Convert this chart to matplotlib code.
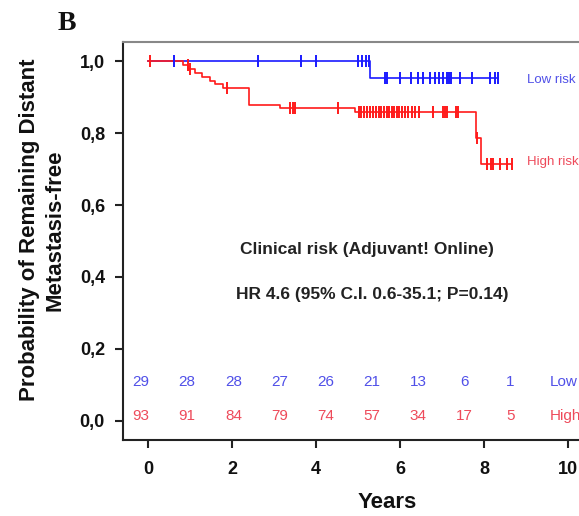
import numpy as np
import matplotlib
matplotlib.use("Agg")
import matplotlib.pyplot as plt

# ---- data ----
low_event_times = [5.29]
low_event_surv = [0.952]
low_end = 8.33
low_censor = [0.62, 2.62, 3.64, 4.0, 5.0, 5.1, 5.19, 5.26, 5.64, 5.69, 6.0, 6.26,
              6.43, 6.55, 6.71, 6.83, 6.93, 7.02, 7.12, 7.16, 7.21, 7.43, 7.71,
              8.14, 8.26, 8.33]

high_event_times = [0.83, 0.96, 1.12, 1.28, 1.48, 1.60, 1.79, 2.39, 3.15, 4.93, 7.80, 7.93]
high_event_surv = [0.989, 0.978, 0.968, 0.957, 0.946, 0.935, 0.925, 0.878, 0.869, 0.858, 0.787, 0.713]
high_end = 8.67
high_censor = [0.05, 0.95, 1.0, 1.88, 3.38, 3.45, 3.5, 4.52,
               5.02, 5.08, 5.14, 5.2, 5.28, 5.36, 5.42, 5.5, 5.55, 5.62, 5.68,
               5.74, 5.8, 5.86, 5.92, 5.98, 6.05, 6.12, 6.2, 6.28, 6.36, 6.45,
               6.79, 7.03, 7.07, 7.11, 7.33, 7.38, 7.83, 8.07, 8.17, 8.21, 8.38,
               8.55, 8.67]

risk_low = [29, 28, 28, 27, 26, 21, 13, 6, 1]
risk_high = [93, 91, 84, 79, 74, 57, 34, 17, 5]

xticks = [0, 2, 4, 6, 8, 10]
yticks = [0.0, 0.2, 0.4, 0.6, 0.8, 1.0]
ytick_labels = ["0,0", "0,2", "0,4", "0,6", "0,8", "1,0"]

BLUE = "#1a1aff"
RED = "#ff1a1a"
BLUE_T = "#5050e8"
RED_T = "#ee4a5a"

plt.rcParams['font.family'] = ['Liberation Sans', 'DejaVu Sans']

fig = plt.figure(figsize=(5.79, 5.16), dpi=100)
ax = fig.add_axes([123/579, 1-440/516, (610-123)/579, (440-42)/516])
ax.set_xlim(-0.6, 11.0)
ax.set_ylim(-0.053, 1.053)


def km_curve(event_t, event_s, end):
    t = [0.0] + list(event_t) + [end]
    s = [1.0] + list(event_s) + [event_s[-1]]
    return np.array(t), np.array(s)


def surv_at(times, event_t, event_s):
    out = []
    for x in times:
        s = 1.0
        for et, es in zip(event_t, event_s):
            if x >= et:
                s = es
        out.append(s)
    return np.array(out)


for et, es, end, cens, col in [(low_event_times, low_event_surv, low_end, low_censor, BLUE),
                               (high_event_times, high_event_surv, high_end, high_censor, RED)]:
    t, s = km_curve(et, es, end)
    ax.step(t, s, where='post', color=col, lw=1.2, zorder=3)
    ax.plot(cens, surv_at(cens, et, es), ls='none', marker='|', ms=8, mew=1.4,
            color=col, zorder=4)

# risk table
risk_x = -0.17 + 1.1 * np.arange(len(risk_low))
for x, lo, hi in zip(risk_x, risk_low, risk_high):
    ax.text(x, 0.108, str(lo), color=BLUE_T, fontsize=11, ha='center', va='center')
    ax.text(x, 0.015, str(hi), color=RED_T, fontsize=11, ha='center', va='center')
ax.text(9.57, 0.108, "Low", color=BLUE_T, fontsize=11, ha='left', va='center')
ax.text(9.57, 0.015, "High", color=RED_T, fontsize=11, ha='left', va='center')

ax.text(9.02, 0.948, "Low risk", color=BLUE_T, fontsize=9.5, ha='left', va='center')
ax.text(9.02, 0.72, "High risk", color=RED_T, fontsize=9.5, ha='left', va='center')

ax.text(5.2, 0.475, "Clinical risk (Adjuvant! Online)", fontsize=12.5,
        fontweight='bold', color='#222222', ha='center', va='center')
ax.text(5.33, 0.35, "HR 4.6 (95% C.I. 0.6-35.1; P=0.14)", fontsize=12.5,
        fontweight='bold', color='#222222', ha='center', va='center')

# axes styling
for side in ['left', 'bottom']:
    ax.spines[side].set_linewidth(1.5)
    ax.spines[side].set_color('#222222')
ax.spines['top'].set_color('#888888')
ax.spines['top'].set_linewidth(1.5)
ax.spines['right'].set_visible(False)

ax.set_xticks(xticks)
ax.set_xticklabels([str(v) for v in xticks], fontsize=13, fontweight='bold')
ax.set_yticks(yticks)
ax.set_yticklabels(ytick_labels, fontsize=13, fontweight='bold')
ax.tick_params(axis='both', direction='out', length=6, width=1.5, color='#222222',
               labelcolor='#111111')
ax.tick_params(axis='x', pad=9)
ax.tick_params(axis='y', pad=7)

fig.text(387/579, 1-502/516, "Years", fontsize=16, fontweight='bold',
         ha='center', va='center', color='#111111')
fig.text(42/579, 1-230/516, "Probability of Remaining Distant\nMetastasis-free",
         fontsize=16, fontweight='bold', rotation=90, ha='center', va='center',
         linespacing=1.25, color='#111111')
fig.text(67/579, 1-24/516, "B", fontsize=20, fontweight='bold',
         family='Liberation Serif', ha='center', va='center', color='#111111')

fig.savefig("out.png", dpi=100)
